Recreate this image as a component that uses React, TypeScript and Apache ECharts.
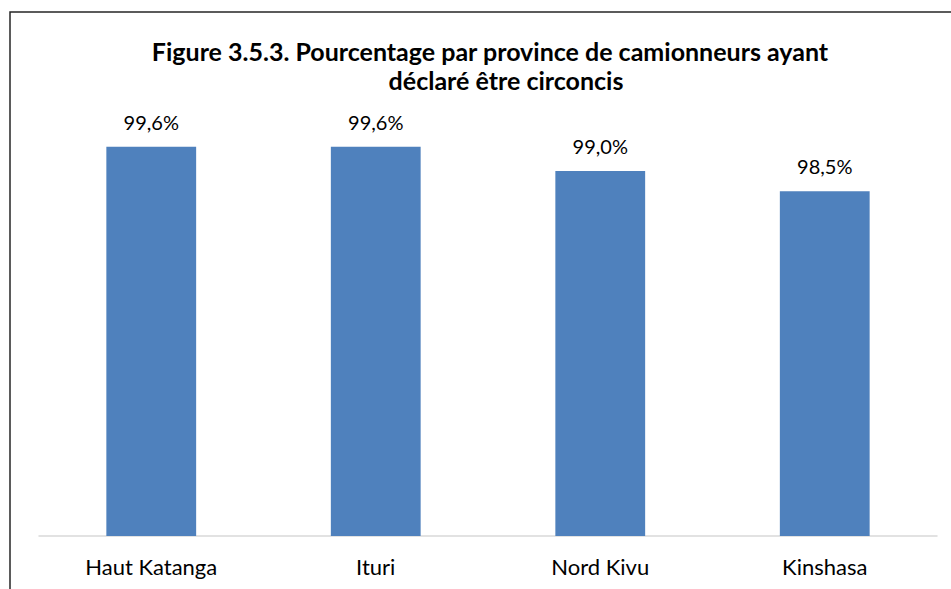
import React, { useEffect, useRef } from "react";
import * as echarts from "echarts";

const titleLines = [
  "Figure 3.5.3. Pourcentage par province de camionneurs ayant",
  "déclaré être circoncis",
];
const provinces = ["Haut Katanga", "Ituri", "Nord Kivu", "Kinshasa"];
const circumcisedPct = [99.6, 99.6, 99.0, 98.5];

export default function App() {
  const ref = useRef<HTMLDivElement>(null);
  useEffect(() => {
    if (!ref.current) return;
    const chart = echarts.init(ref.current, null, { renderer: "svg" });
    chart.setOption({
      animation: false,
      backgroundColor: "#ffffff",
      textStyle: { fontFamily: "Lato" },
      graphic: [
        {
          type: "rect",
          shape: { x: 10, y: 12, width: 1000, height: 700 },
          style: { fill: "none", stroke: "#262626", lineWidth: 1.5 },
          silent: true,
        },
        {
          type: "text",
          x: 490,
          y: 51,
          style: {
            text: titleLines[0],
            fontFamily: "Lato",
            fontWeight: "bold",
            fontSize: 25,
            fill: "#000000",
            align: "center",
            verticalAlign: "middle",
          },
        },
        {
          type: "text",
          x: 506,
          y: 80,
          style: {
            text: titleLines[1],
            fontFamily: "Lato",
            fontWeight: "bold",
            fontSize: 25,
            fill: "#000000",
            align: "center",
            verticalAlign: "middle",
          },
        },
      ],
      grid: { left: 39, right: 14, top: 130.5, bottom: 53, containLabel: false },
      xAxis: {
        type: "category",
        data: provinces,
        axisLine: { show: true, lineStyle: { color: "#d9d9d9", width: 1.5 } },
        axisTick: { show: false },
        axisLabel: { color: "#000000", fontSize: 22, fontFamily: "Lato", margin: 19 },
      },
      yAxis: {
        type: "value",
        min: 90,
        max: 100,
        show: false,
        splitLine: { show: false },
      },
      series: [
        {
          type: "bar",
          data: circumcisedPct,
          barCategoryGap: "60%",
          itemStyle: { color: "#4f81bd" },
          label: {
            show: true,
            position: "top",
            distance: 15,
            color: "#000000",
            fontSize: 20,
            fontFamily: "Lato",
            formatter: (p: any) => p.value.toFixed(1).replace(".", ",") + "%",
          },
        },
      ],
    });
    return () => chart.dispose();
  }, []);
  return <div ref={ref} style={{ width: 951, height: 589, position: "absolute", left: 0, top: 0 }} />;
}
